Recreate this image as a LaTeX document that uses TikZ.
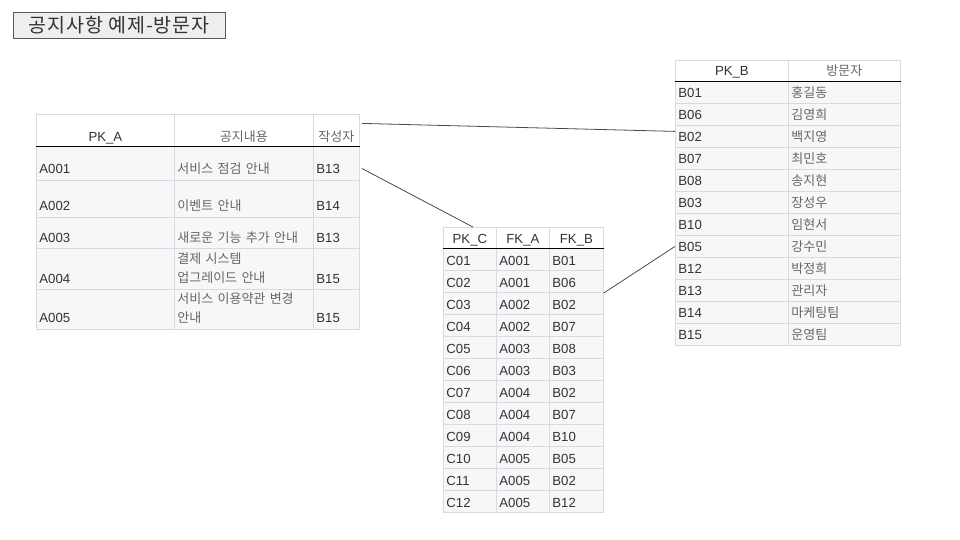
\documentclass[tikz,border=0pt]{standalone}
\usepackage{fontspec}
\setmainfont{Liberation Sans}
\newfontfamily\kr{Noto Sans CJK KR}
\newfontfamily\krtitle[LetterSpace=5]{Noto Sans CJK KR}
\usetikzlibrary{positioning}

\definecolor{gridc}{HTML}{D9D9E3}
\definecolor{rowc}{HTML}{F7F7F8}
\definecolor{txtc}{HTML}{333333}
\definecolor{krc}{HTML}{666666}
\definecolor{linkc}{HTML}{4A4A4A}
\definecolor{titlec}{HTML}{EEEEEE}

\begin{document}
\begin{tikzpicture}[x=1pt,y=-1pt,
   cell/.style={draw=gridc,fill=rowc,line width=0.8pt,anchor=north west,inner xsep=3pt,inner ysep=0pt,
                align=left,text=txtc,font=\fontsize{13.2}{19}\selectfont},
   hcell/.style={cell,fill=white,align=center},
   kr/.style={font=\kr\fontsize{13}{19}\selectfont,text=krc},
   acol1/.style={minimum width=138pt,text width=132pt},
   acol2/.style={minimum width=139pt,text width=133pt},
   acol3/.style={minimum width=46pt,text width=40pt},
   bcol1/.style={minimum width=113pt,text width=107pt,minimum height=22pt,text height=16pt,text depth=6pt},
   bcol2/.style={minimum width=112pt,text width=106pt,minimum height=22pt,text height=16pt,text depth=6pt},
   ccol/.style={minimum width=53pt,text width=47pt,minimum height=22pt,text height=17pt,text depth=5pt},
   headline/.style={draw=black,line width=0.9pt},
   link/.style={draw=linkc,line width=0.8pt}]

   \useasboundingbox (0,0) rectangle (960,540);

   % Title
      \node[draw=black!65,fill=titlec,line width=0.8pt,minimum width=212pt,minimum height=26pt,inner sep=0pt,
            font=\krtitle\fontsize{19.5}{22}\selectfont,text=txtc] (ttl) at (119,25) {공지사항 예제-방문자};

   % Table A (notices)
      \node[hcell,acol1,minimum height=32pt,text height=27pt,text depth=5pt]    (a-h1) at (36,114)  {PK\_A};
      \node[hcell,acol2,kr,minimum height=32pt,text height=27pt,text depth=5pt] (a-h2) at (174,114) {공지내용};
      \node[hcell,acol3,kr,minimum height=32pt,text height=27pt,text depth=5pt] (a-h3) at (313,114) {작성자};
      \foreach \i/\top/\h/\th/\pk/\body/\bh/\bd/\who in {
         1/146/34/27/A001/{서비스 점검 안내}/27/7/B13,
         2/180/37/30/A002/{이벤트 안내}/30/7/B14,
         3/217/31/25/A003/{새로운 기능 추가 안내}/25/6/B13,
         4/248/41/35/A004/{결제 시스템\\업그레이드 안내}/15/26/B15,
         5/289/40/33/A005/{서비스 이용약관 변경\\안내}/14/26/B15}
      {
         \node[cell,acol1,minimum height=\h pt,text height=\th pt,text depth=\h pt-\th pt]    (a-\i-1) at (36,\top)  {\pk};
         \node[cell,acol2,kr,minimum height=\h pt,text height=\bh pt,text depth=\bd pt]      (a-\i-2) at (174,\top) {\body};
         \node[cell,acol3,minimum height=\h pt,text height=\th pt,text depth=\h pt-\th pt]    (a-\i-3) at (313,\top) {\who};
      }
      \draw[headline] (a-h1.south west) -- (a-h3.south east);

   % Table B (visitors)
      \node[hcell,bcol1,minimum height=21pt,text height=15pt]    (b-h1) at (675,60)  {PK\_B};
      \node[hcell,bcol2,kr,minimum height=21pt,text height=15pt] (b-h2) at (788,60)  {방문자};
      \foreach \k/\nm [count=\i] in {B01/홍길동,B06/김영희,B02/백지영,B07/최민호,B08/송지현,B03/장성우,
                                    B10/임현서,B05/강수민,B12/박정희,B13/관리자,B14/마케팅팀,B15/운영팀}
      {
         \node[cell,bcol1]    (b-\i-1) at (675,{81+22*(\i-1)}) {\k};
         \node[cell,bcol2,kr] (b-\i-2) at (788,{81+22*(\i-1)}) {\nm};
      }
      \draw[headline] (b-h1.south west) -- (b-h2.south east);

   % Table C (links)
      \node[hcell,ccol,minimum height=21pt,text height=16pt] (c-h1) at (443,227) {PK\_C};
      \node[hcell,ccol,minimum height=21pt,text height=16pt] (c-h2) at (496,227) {FK\_A};
      \node[hcell,ccol,minimum height=21pt,text height=16pt,minimum width=54pt,text width=48pt] (c-h3) at (549,227) {FK\_B};
      \foreach \pk/\fa/\fb [count=\i] in {C01/A001/B01,C02/A001/B06,C03/A002/B02,C04/A002/B07,
                                          C05/A003/B08,C06/A003/B03,C07/A004/B02,C08/A004/B07,
                                          C09/A004/B10,C10/A005/B05,C11/A005/B02,C12/A005/B12}
      {
         \node[cell,ccol] (c-\i-1) at (443,{248+22*(\i-1)}) {\pk};
         \node[cell,ccol] (c-\i-2) at (496,{248+22*(\i-1)}) {\fa};
         \node[cell,ccol,minimum width=54pt,text width=48pt] (c-\i-3) at (549,{248+22*(\i-1)}) {\fb};
      }
      \draw[headline] (c-h1.south west) -- (c-h3.south east);

   % Paths
      \draw[link] ([xshift=2pt,yshift=7pt]a-h3.east) -- ([yshift=5pt]b-3-1.west);
      \draw[link] ([xshift=2pt,yshift=-5pt]a-1-3.east) -- ([xshift=3pt]c-h1.north);
      \draw[link] ([yshift=-1pt]c-3-3.north east) -- (b-8-1.west);
\end{tikzpicture}
\end{document}
